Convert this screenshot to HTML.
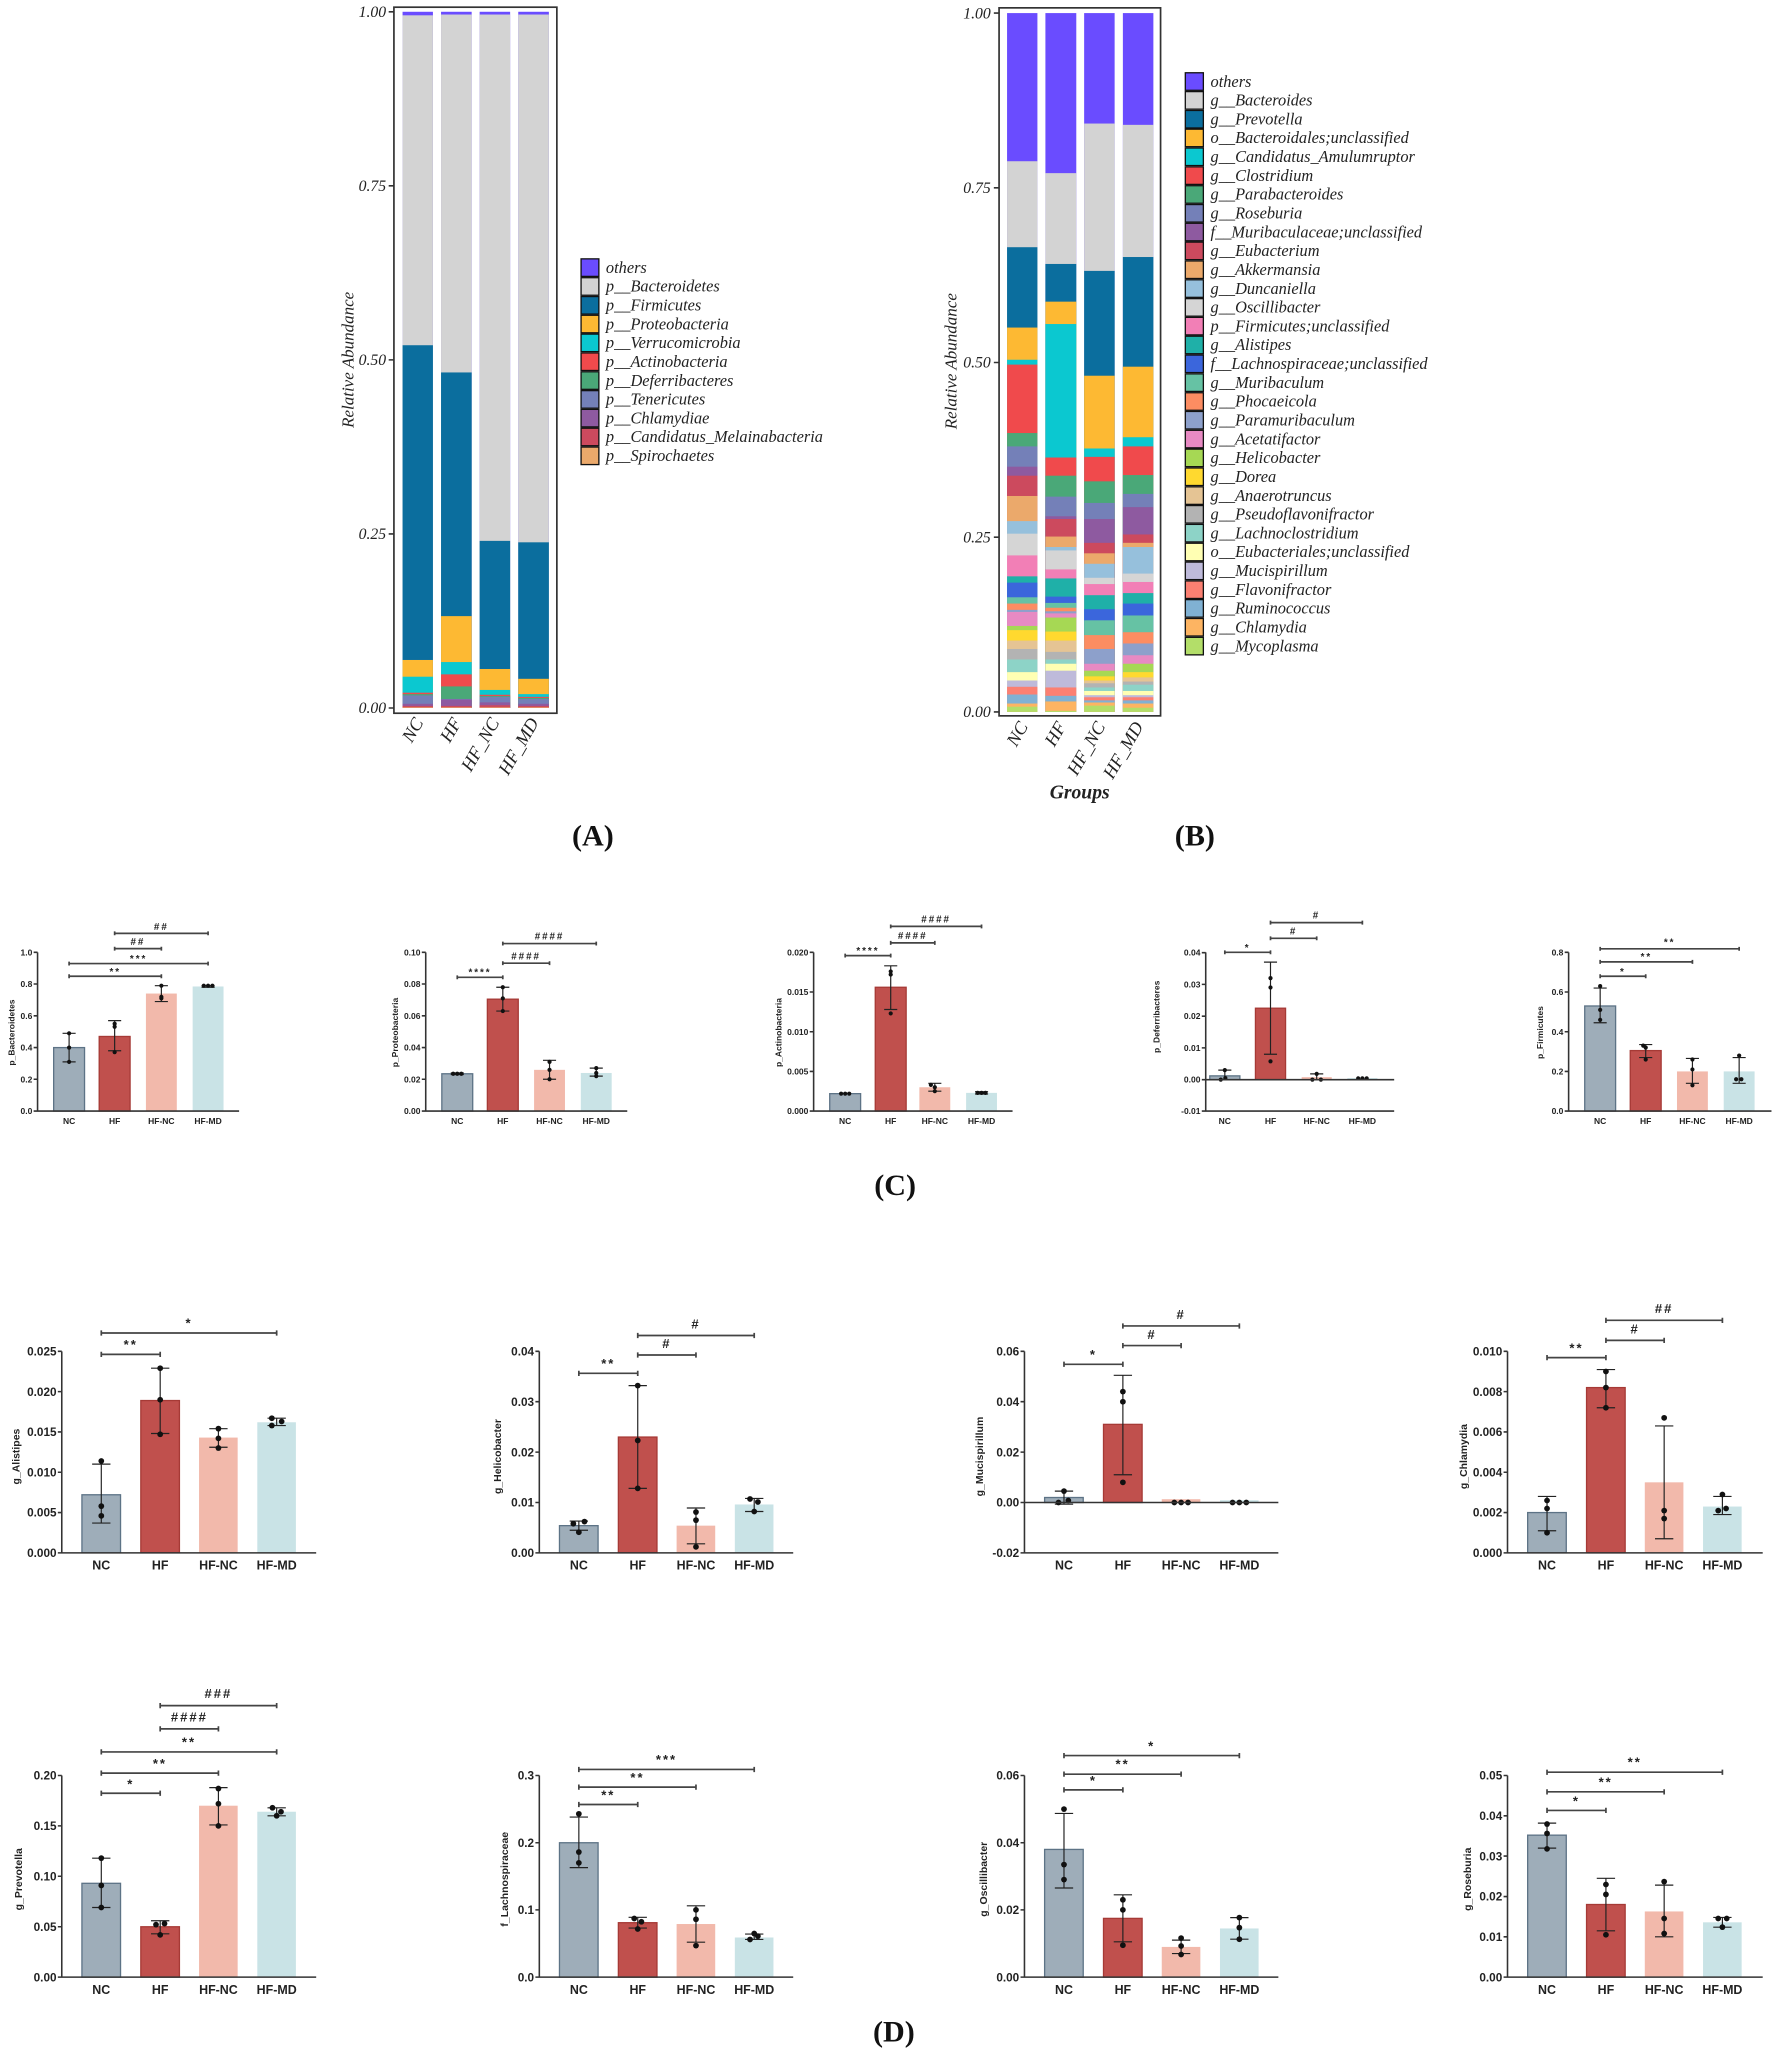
<!DOCTYPE html>
<html><head><meta charset="utf-8"><style>
html,body{margin:0;padding:0;background:#fff}
svg{display:block}
.ser{font-family:"Liberation Serif",serif;font-style:italic;fill:#222}
.nar{font-family:"Liberation Sans Narrow","Liberation Sans",sans-serif;font-weight:bold;fill:#222}
.yl{font-family:"Liberation Sans",sans-serif;font-weight:bold;fill:#222}
.nc{fill:#9eadb9;stroke:#5d7386;stroke-width:1}
.hf{fill:#c0504d;stroke:#a63a36;stroke-width:1}
.hn{fill:#f2b9ab}
.hm{fill:#c9e3e6}
.ax{stroke:#333;stroke-width:1.2;fill:none}
.eb{stroke:#222;stroke-width:0.9;fill:none}
.sg{stroke:#444;stroke-width:1.3;fill:none}
.st{font-family:"Liberation Sans",sans-serif;font-weight:bold;fill:#222;text-anchor:middle;letter-spacing:1.5px}
.lg rect{stroke:#111;stroke-width:1}
</style></head><body>
<svg width="1772" height="2052" viewBox="0 0 1354 1568" preserveAspectRatio="none" xmlns="http://www.w3.org/2000/svg">
<defs>
<clipPath id="ca"><rect x="0" y="0" width="1354" height="541"/></clipPath>
<clipPath id="cb"><rect x="0" y="0" width="1354" height="544"/></clipPath>
</defs>

<!-- ===== Panel A ===== -->
<g clip-path="url(#ca)">
<g><!-- NC -->
<rect x="307.6" width="23.2" y="9" height="600" fill="#6a4cff"/>
<rect x="307.6" width="23.2" y="11.7" height="600" fill="#d3d3d3"/>
<rect x="307.6" width="23.2" y="263.8" height="600" fill="#0b6e9e"/>
<rect x="307.6" width="23.2" y="504.3" height="600" fill="#fdb933"/>
<rect x="307.6" width="23.2" y="517.1" height="600" fill="#0bc8d0"/>
<rect x="307.6" width="23.2" y="529.3" height="600" fill="#f04a4c"/>
<rect x="307.6" width="23.2" y="530.4" height="600" fill="#4aa878"/>
<rect x="307.6" width="23.2" y="531.4" height="600" fill="#7480b8"/>
<rect x="307.6" width="23.2" y="537.8" height="600" fill="#8e5aa0"/>
<rect x="307.6" width="23.2" y="539.4" height="600" fill="#cc4a5e"/>
<rect x="307.6" width="23.2" y="540.5" height="600" fill="#eba96b"/>
</g>
<g><!-- HF -->
<rect x="337" width="23.4" y="9" height="600" fill="#6a4cff"/>
<rect x="337" width="23.4" y="11.1" height="600" fill="#d3d3d3"/>
<rect x="337" width="23.4" y="284.6" height="600" fill="#0b6e9e"/>
<rect x="337" width="23.4" y="470.8" height="600" fill="#fdb933"/>
<rect x="337" width="23.4" y="505.9" height="600" fill="#0bc8d0"/>
<rect x="337" width="23.4" y="515.3" height="600" fill="#f04a4c"/>
<rect x="337" width="23.4" y="524.5" height="600" fill="#4aa878"/>
<rect x="337" width="23.4" y="534.1" height="600" fill="#7480b8"/>
<rect x="337" width="23.4" y="534.5" height="600" fill="#8e5aa0"/>
<rect x="337" width="23.4" y="539.4" height="600" fill="#cc4a5e"/>
<rect x="337" width="23.4" y="540.5" height="600" fill="#eba96b"/>
</g>
<g><!-- HF_NC -->
<rect x="366.5" width="23.3" y="9" height="600" fill="#6a4cff"/>
<rect x="366.5" width="23.3" y="11.1" height="600" fill="#d3d3d3"/>
<rect x="366.5" width="23.3" y="413.3" height="600" fill="#0b6e9e"/>
<rect x="366.5" width="23.3" y="511.2" height="600" fill="#fdb933"/>
<rect x="366.5" width="23.3" y="527.2" height="600" fill="#0bc8d0"/>
<rect x="366.5" width="23.3" y="530.9" height="600" fill="#f04a4c"/>
<rect x="366.5" width="23.3" y="531.8" height="600" fill="#4aa878"/>
<rect x="366.5" width="23.3" y="532.5" height="600" fill="#7480b8"/>
<rect x="366.5" width="23.3" y="536.7" height="600" fill="#8e5aa0"/>
<rect x="366.5" width="23.3" y="538.9" height="600" fill="#cc4a5e"/>
<rect x="366.5" width="23.3" y="540.5" height="600" fill="#eba96b"/>
</g>
<g><!-- HF_MD -->
<rect x="396" width="23.4" y="9" height="600" fill="#6a4cff"/>
<rect x="396" width="23.4" y="11.1" height="600" fill="#d3d3d3"/>
<rect x="396" width="23.4" y="414.4" height="600" fill="#0b6e9e"/>
<rect x="396" width="23.4" y="518.7" height="600" fill="#fdb933"/>
<rect x="396" width="23.4" y="530.4" height="600" fill="#0bc8d0"/>
<rect x="396" width="23.4" y="532.5" height="600" fill="#f04a4c"/>
<rect x="396" width="23.4" y="533.3" height="600" fill="#4aa878"/>
<rect x="396" width="23.4" y="534.1" height="600" fill="#7480b8"/>
<rect x="396" width="23.4" y="537.8" height="600" fill="#8e5aa0"/>
<rect x="396" width="23.4" y="539.4" height="600" fill="#cc4a5e"/>
<rect x="396" width="23.4" y="540.5" height="600" fill="#eba96b"/>
</g>
</g>
<rect x="301" y="5.5" width="124.5" height="539.5" fill="none" stroke="#333" stroke-width="1.3"/>
<path class="ax" d="M297 9H301M297 142H301M297 275H301M297 408H301M297 541H301"/>
<g class="ser" font-size="12" text-anchor="end">
<text x="295" y="13">1.00</text><text x="295" y="146">0.75</text><text x="295" y="279">0.50</text><text x="295" y="412">0.25</text><text x="295" y="545">0.00</text>
</g>
<text class="ser" font-size="13" text-anchor="middle" transform="translate(270,275) rotate(-90)">Relative Abundance</text>
<g class="ser" font-size="14" text-anchor="end">
<text transform="translate(324,552) rotate(-60)">NC</text>
<text transform="translate(353,552) rotate(-60)">HF</text>
<text transform="translate(382,552) rotate(-60)">HF_NC</text>
<text transform="translate(412,552) rotate(-60)">HF_MD</text>
</g>
<g class="lg">
<rect x="444" y="197.8" width="13.6" height="13.4" fill="#6a4cff"/>
<rect x="444" y="212.2" width="13.6" height="13.4" fill="#d3d3d3"/>
<rect x="444" y="226.6" width="13.6" height="13.4" fill="#0b6e9e"/>
<rect x="444" y="240.9" width="13.6" height="13.4" fill="#fdb933"/>
<rect x="444" y="255.3" width="13.6" height="13.4" fill="#0bc8d0"/>
<rect x="444" y="269.7" width="13.6" height="13.4" fill="#f04a4c"/>
<rect x="444" y="284.1" width="13.6" height="13.4" fill="#4aa878"/>
<rect x="444" y="298.5" width="13.6" height="13.4" fill="#7480b8"/>
<rect x="444" y="312.8" width="13.6" height="13.4" fill="#8e5aa0"/>
<rect x="444" y="327.2" width="13.6" height="13.4" fill="#cc4a5e"/>
<rect x="444" y="341.6" width="13.6" height="13.4" fill="#eba96b"/>
</g>
<g class="ser" font-size="12.5">
<text x="463" y="208.5">others</text>
<text x="463" y="222.9">p__Bacteroidetes</text>
<text x="463" y="237.3">p__Firmicutes</text>
<text x="463" y="251.6">p__Proteobacteria</text>
<text x="463" y="266">p__Verrucomicrobia</text>
<text x="463" y="280.4">p__Actinobacteria</text>
<text x="463" y="294.8">p__Deferribacteres</text>
<text x="463" y="309.2">p__Tenericutes</text>
<text x="463" y="323.5">p__Chlamydiae</text>
<text x="463" y="337.9">p__Candidatus_Melainabacteria</text>
<text x="463" y="352.3">p__Spirochaetes</text>
</g>

<!-- ===== Panel B ===== -->
<g clip-path="url(#cb)">
<g transform="translate(769.5,0)">
<rect width="23.2" height="600" y="10" fill="#6a4cff"/><rect width="23.2" height="600" y="123.2" fill="#d3d3d3"/><rect width="23.2" height="600" y="188.9" fill="#0b6e9e"/><rect width="23.2" height="600" y="250.3" fill="#fdb933"/><rect width="23.2" height="600" y="274.9" fill="#0bc8d0"/><rect width="23.2" height="600" y="278.6" fill="#f04a4c"/><rect width="23.2" height="600" y="330.9" fill="#4aa878"/><rect width="23.2" height="600" y="341.1" fill="#7480b8"/><rect width="23.2" height="600" y="356.6" fill="#8e5aa0"/><rect width="23.2" height="600" y="363.5" fill="#cc4a5e"/><rect width="23.2" height="600" y="379" fill="#eba96b"/><rect width="23.2" height="600" y="398.2" fill="#96c0dc"/><rect width="23.2" height="600" y="407.8" fill="#d5d5d5"/><rect width="23.2" height="600" y="424.4" fill="#f27fb6"/><rect width="23.2" height="600" y="440.4" fill="#1fb0a8"/><rect width="23.2" height="600" y="445.2" fill="#3b66dc"/><rect width="23.2" height="600" y="456.4" fill="#66c2a4"/><rect width="23.2" height="600" y="461.2" fill="#fc8d62"/><rect width="23.2" height="600" y="466" fill="#8da0cb"/><rect width="23.2" height="600" y="467.6" fill="#e78ac3"/><rect width="23.2" height="600" y="478.3" fill="#a6d854"/><rect width="23.2" height="600" y="481.5" fill="#ffd92f"/><rect width="23.2" height="600" y="489.5" fill="#e5c494"/><rect width="23.2" height="600" y="495.9" fill="#b3b3b3"/><rect width="23.2" height="600" y="503.9" fill="#8dd3c7"/><rect width="23.2" height="600" y="513.6" fill="#ffffb3"/><rect width="23.2" height="600" y="520" fill="#bebada"/><rect width="23.2" height="600" y="524.8" fill="#fb8072"/><rect width="23.2" height="600" y="530.7" fill="#80b1d3"/><rect width="23.2" height="600" y="537.6" fill="#fdb462"/><rect width="23.2" height="600" y="540" fill="#b3de69"/>
</g>
<g transform="translate(798.8,0)">
<rect width="23.6" height="600" y="10" fill="#6a4cff"/><rect width="23.6" height="600" y="132.3" fill="#d3d3d3"/><rect width="23.6" height="600" y="201.7" fill="#0b6e9e"/><rect width="23.6" height="600" y="230.5" fill="#fdb933"/><rect width="23.6" height="600" y="247.6" fill="#0bc8d0"/><rect width="23.6" height="600" y="349.6" fill="#f04a4c"/><rect width="23.6" height="600" y="363.5" fill="#4aa878"/><rect width="23.6" height="600" y="379.5" fill="#7480b8"/><rect width="23.6" height="600" y="394.5" fill="#8e5aa0"/><rect width="23.6" height="600" y="396.6" fill="#cc4a5e"/><rect width="23.6" height="600" y="410" fill="#eba96b"/><rect width="23.6" height="600" y="418" fill="#96c0dc"/><rect width="23.6" height="600" y="420.6" fill="#d5d5d5"/><rect width="23.6" height="600" y="435.1" fill="#f27fb6"/><rect width="23.6" height="600" y="442" fill="#1fb0a8"/><rect width="23.6" height="600" y="455.9" fill="#3b66dc"/><rect width="23.6" height="600" y="460.7" fill="#66c2a4"/><rect width="23.6" height="600" y="464.4" fill="#fc8d62"/><rect width="23.6" height="600" y="467.1" fill="#8da0cb"/><rect width="23.6" height="600" y="468.7" fill="#e78ac3"/><rect width="23.6" height="600" y="471.9" fill="#a6d854"/><rect width="23.6" height="600" y="482.6" fill="#ffd92f"/><rect width="23.6" height="600" y="489.5" fill="#e5c494"/><rect width="23.6" height="600" y="498.1" fill="#b3b3b3"/><rect width="23.6" height="600" y="503.9" fill="#8dd3c7"/><rect width="23.6" height="600" y="507.2" fill="#ffffb3"/><rect width="23.6" height="600" y="512.5" fill="#bebada"/><rect width="23.6" height="600" y="525.3" fill="#fb8072"/><rect width="23.6" height="600" y="531.7" fill="#80b1d3"/><rect width="23.6" height="600" y="536" fill="#fdb462"/><rect width="23.6" height="600" y="543.2" fill="#b3de69"/>
</g>
<g transform="translate(828.4,0)">
<rect width="23.3" height="600" y="10" fill="#6a4cff"/><rect width="23.3" height="600" y="94.4" fill="#d3d3d3"/><rect width="23.3" height="600" y="207" fill="#0b6e9e"/><rect width="23.3" height="600" y="287.1" fill="#fdb933"/><rect width="23.3" height="600" y="342.7" fill="#0bc8d0"/><rect width="23.3" height="600" y="349.1" fill="#f04a4c"/><rect width="23.3" height="600" y="367.8" fill="#4aa878"/><rect width="23.3" height="600" y="384.3" fill="#7480b8"/><rect width="23.3" height="600" y="396.6" fill="#8e5aa0"/><rect width="23.3" height="600" y="414.8" fill="#cc4a5e"/><rect width="23.3" height="600" y="422.8" fill="#eba96b"/><rect width="23.3" height="600" y="430.8" fill="#96c0dc"/><rect width="23.3" height="600" y="441.5" fill="#d5d5d5"/><rect width="23.3" height="600" y="446.3" fill="#f27fb6"/><rect width="23.3" height="600" y="454.8" fill="#1fb0a8"/><rect width="23.3" height="600" y="465.5" fill="#3b66dc"/><rect width="23.3" height="600" y="474" fill="#66c2a4"/><rect width="23.3" height="600" y="485.3" fill="#fc8d62"/><rect width="23.3" height="600" y="495.9" fill="#8da0cb"/><rect width="23.3" height="600" y="507.2" fill="#e78ac3"/><rect width="23.3" height="600" y="512.5" fill="#a6d854"/><rect width="23.3" height="600" y="516.8" fill="#ffd92f"/><rect width="23.3" height="600" y="520" fill="#e5c494"/><rect width="23.3" height="600" y="522.1" fill="#b3b3b3"/><rect width="23.3" height="600" y="525.3" fill="#8dd3c7"/><rect width="23.3" height="600" y="528" fill="#ffffb3"/><rect width="23.3" height="600" y="531.2" fill="#bebada"/><rect width="23.3" height="600" y="532.8" fill="#fb8072"/><rect width="23.3" height="600" y="535.2" fill="#80b1d3"/><rect width="23.3" height="600" y="536.8" fill="#fdb462"/><rect width="23.3" height="600" y="539.2" fill="#b3de69"/>
</g>
<g transform="translate(858,0)">
<rect width="23.3" height="600" y="10" fill="#6a4cff"/><rect width="23.3" height="600" y="95.4" fill="#d3d3d3"/><rect width="23.3" height="600" y="196.4" fill="#0b6e9e"/><rect width="23.3" height="600" y="280.2" fill="#fdb933"/><rect width="23.3" height="600" y="334.1" fill="#0bc8d0"/><rect width="23.3" height="600" y="341.1" fill="#f04a4c"/><rect width="23.3" height="600" y="363" fill="#4aa878"/><rect width="23.3" height="600" y="377.4" fill="#7480b8"/><rect width="23.3" height="600" y="387.5" fill="#8e5aa0"/><rect width="23.3" height="600" y="408.4" fill="#cc4a5e"/><rect width="23.3" height="600" y="414.8" fill="#eba96b"/><rect width="23.3" height="600" y="418" fill="#96c0dc"/><rect width="23.3" height="600" y="438.3" fill="#d5d5d5"/><rect width="23.3" height="600" y="444.7" fill="#f27fb6"/><rect width="23.3" height="600" y="453.2" fill="#1fb0a8"/><rect width="23.3" height="600" y="461.2" fill="#3b66dc"/><rect width="23.3" height="600" y="470.3" fill="#66c2a4"/><rect width="23.3" height="600" y="483.1" fill="#fc8d62"/><rect width="23.3" height="600" y="491.7" fill="#8da0cb"/><rect width="23.3" height="600" y="500.7" fill="#e78ac3"/><rect width="23.3" height="600" y="507.2" fill="#a6d854"/><rect width="23.3" height="600" y="513.6" fill="#ffd92f"/><rect width="23.3" height="600" y="517.6" fill="#e5c494"/><rect width="23.3" height="600" y="520.8" fill="#b3b3b3"/><rect width="23.3" height="600" y="523.2" fill="#8dd3c7"/><rect width="23.3" height="600" y="528" fill="#ffffb3"/><rect width="23.3" height="600" y="531.2" fill="#bebada"/><rect width="23.3" height="600" y="532.8" fill="#fb8072"/><rect width="23.3" height="600" y="535.2" fill="#80b1d3"/><rect width="23.3" height="600" y="537.6" fill="#fdb462"/><rect width="23.3" height="600" y="540.8" fill="#b3de69"/>
</g>
</g>
<rect x="763.4" y="6" width="123.4" height="541" fill="none" stroke="#333" stroke-width="1.3"/>
<path class="ax" d="M759.4 10H763.4M759.4 143.5H763.4M759.4 277H763.4M759.4 410.5H763.4M759.4 544H763.4"/>
<g class="ser" font-size="12" text-anchor="end">
<text x="757" y="14">1.00</text><text x="757" y="147.5">0.75</text><text x="757" y="281">0.50</text><text x="757" y="414.5">0.25</text><text x="757" y="548">0.00</text>
</g>
<text class="ser" font-size="13" text-anchor="middle" transform="translate(731,276) rotate(-90)">Relative Abundance</text>
<g class="ser" font-size="14" text-anchor="end">
<text transform="translate(786,555) rotate(-60)">NC</text>
<text transform="translate(815,555) rotate(-60)">HF</text>
<text transform="translate(845,555) rotate(-60)">HF_NC</text>
<text transform="translate(874,555) rotate(-60)">HF_MD</text>
</g>
<text class="ser" font-size="15" font-weight="bold" text-anchor="middle" x="825" y="610">Groups</text>
<g class="lg">
<rect x="905.7" y="55.6" width="13.8" height="13.4" fill="#6a4cff"/>
<rect x="905.7" y="70" width="13.8" height="13.4" fill="#d3d3d3"/>
<rect x="905.7" y="84.4" width="13.8" height="13.4" fill="#0b6e9e"/>
<rect x="905.7" y="98.7" width="13.8" height="13.4" fill="#fdb933"/>
<rect x="905.7" y="113.1" width="13.8" height="13.4" fill="#0bc8d0"/>
<rect x="905.7" y="127.5" width="13.8" height="13.4" fill="#f04a4c"/>
<rect x="905.7" y="141.9" width="13.8" height="13.4" fill="#4aa878"/>
<rect x="905.7" y="156.3" width="13.8" height="13.4" fill="#7480b8"/>
<rect x="905.7" y="170.6" width="13.8" height="13.4" fill="#8e5aa0"/>
<rect x="905.7" y="185" width="13.8" height="13.4" fill="#cc4a5e"/>
<rect x="905.7" y="199.4" width="13.8" height="13.4" fill="#eba96b"/>
<rect x="905.7" y="213.8" width="13.8" height="13.4" fill="#96c0dc"/>
<rect x="905.7" y="228.2" width="13.8" height="13.4" fill="#d5d5d5"/>
<rect x="905.7" y="242.5" width="13.8" height="13.4" fill="#f27fb6"/>
<rect x="905.7" y="256.9" width="13.8" height="13.4" fill="#1fb0a8"/>
<rect x="905.7" y="271.3" width="13.8" height="13.4" fill="#3b66dc"/>
<rect x="905.7" y="285.7" width="13.8" height="13.4" fill="#66c2a4"/>
<rect x="905.7" y="300.1" width="13.8" height="13.4" fill="#fc8d62"/>
<rect x="905.7" y="314.4" width="13.8" height="13.4" fill="#8da0cb"/>
<rect x="905.7" y="328.8" width="13.8" height="13.4" fill="#e78ac3"/>
<rect x="905.7" y="343.2" width="13.8" height="13.4" fill="#a6d854"/>
<rect x="905.7" y="357.6" width="13.8" height="13.4" fill="#ffd92f"/>
<rect x="905.7" y="372" width="13.8" height="13.4" fill="#e5c494"/>
<rect x="905.7" y="386.3" width="13.8" height="13.4" fill="#b3b3b3"/>
<rect x="905.7" y="400.7" width="13.8" height="13.4" fill="#8dd3c7"/>
<rect x="905.7" y="415.1" width="13.8" height="13.4" fill="#ffffb3"/>
<rect x="905.7" y="429.5" width="13.8" height="13.4" fill="#bebada"/>
<rect x="905.7" y="443.9" width="13.8" height="13.4" fill="#fb8072"/>
<rect x="905.7" y="458.2" width="13.8" height="13.4" fill="#80b1d3"/>
<rect x="905.7" y="472.6" width="13.8" height="13.4" fill="#fdb462"/>
<rect x="905.7" y="487" width="13.8" height="13.4" fill="#b3de69"/>
</g>
<g class="ser" font-size="12.5">
<text x="925" y="66.3">others</text>
<text x="925" y="80.7">g__Bacteroides</text>
<text x="925" y="95.1">g__Prevotella</text>
<text x="925" y="109.4">o__Bacteroidales;unclassified</text>
<text x="925" y="123.8">g__Candidatus_Amulumruptor</text>
<text x="925" y="138.2">g__Clostridium</text>
<text x="925" y="152.6">g__Parabacteroides</text>
<text x="925" y="167">g__Roseburia</text>
<text x="925" y="181.3">f__Muribaculaceae;unclassified</text>
<text x="925" y="195.7">g__Eubacterium</text>
<text x="925" y="210.1">g__Akkermansia</text>
<text x="925" y="224.5">g__Duncaniella</text>
<text x="925" y="238.9">g__Oscillibacter</text>
<text x="925" y="253.2">p__Firmicutes;unclassified</text>
<text x="925" y="267.6">g__Alistipes</text>
<text x="925" y="282">f__Lachnospiraceae;unclassified</text>
<text x="925" y="296.4">g__Muribaculum</text>
<text x="925" y="310.8">g__Phocaeicola</text>
<text x="925" y="325.1">g__Paramuribaculum</text>
<text x="925" y="339.5">g__Acetatifactor</text>
<text x="925" y="353.9">g__Helicobacter</text>
<text x="925" y="368.3">g__Dorea</text>
<text x="925" y="382.7">g__Anaerotruncus</text>
<text x="925" y="397">g__Pseudoflavonifractor</text>
<text x="925" y="411.4">g__Lachnoclostridium</text>
<text x="925" y="425.8">o__Eubacteriales;unclassified</text>
<text x="925" y="440.2">g__Mucispirillum</text>
<text x="925" y="454.6">g__Flavonifractor</text>
<text x="925" y="468.9">g__Ruminococcus</text>
<text x="925" y="483.3">g__Chlamydia</text>
<text x="925" y="497.7">g__Mycoplasma</text>
</g>

<g font-family="Liberation Serif,serif" font-weight="bold" font-size="23" text-anchor="middle" fill="#111">
<text x="453" y="646">(A)</text><text x="913" y="646">(B)</text><text x="684" y="913">(C)</text><text x="683" y="1560">(D)</text>
</g>

<!-- ===== Panel C ===== -->
<!-- C1 -->
<g transform="translate(28.7,0)">
<rect class="nc" x="12.3" y="800.5" width="23.6" height="48.5"/><rect class="hf" x="47.1" y="792" width="23.6" height="57"/><rect class="hn" x="82.8" y="759.2" width="23.6" height="89.8"/><rect class="hm" x="118.5" y="753.8" width="23.6" height="95.2"/>
<path class="eb" d="M24.1 811.4V789.6M19.1 811.4h10M19.1 789.6h10M58.9 802.9V779.9M53.9 802.9h10M53.9 779.9h10M94.6 765.3V753.2M89.6 765.3h10M89.6 753.2h10M130.3 754.4V753.2M125.3 754.4h10M125.3 753.2h10"/>
<g fill="#111"><circle cx="24.1" cy="811.4" r="1.6"/><circle cx="24.1" cy="800.5" r="1.6"/><circle cx="24.1" cy="789.6" r="1.6"/><circle cx="58.9" cy="804" r="1.6"/><circle cx="58.9" cy="784.6" r="1.6"/><circle cx="58.9" cy="782.3" r="1.6"/><circle cx="94.6" cy="762.9" r="1.6"/><circle cx="94.6" cy="761.7" r="1.6"/><circle cx="94.6" cy="753.2" r="1.6"/><circle cx="127" cy="753.2" r="1.6"/><circle cx="130.3" cy="753.2" r="1.6"/><circle cx="133.6" cy="753.2" r="1.6"/></g>
<path class="ax" d="M0 727.7V849H154M-3 849H0M-3 824.7H0M-3 800.5H0M-3 776.2H0M-3 751.9H0M-3 727.7H0"/>
<g class="nar" font-size="6.5" text-anchor="end"><text x="-4" y="851.3">0.0</text><text x="-4" y="827">0.2</text><text x="-4" y="802.8">0.4</text><text x="-4" y="778.5">0.6</text><text x="-4" y="754.2">0.8</text><text x="-4" y="730">1.0</text></g>
<g class="nar" font-size="6.5" text-anchor="middle"><text x="24.1" y="859">NC</text><text x="58.9" y="859">HF</text><text x="94.6" y="859">HF-NC</text><text x="130.3" y="859">HF-MD</text></g>
<path class="sg" d="M24.1 746H94.6M24.1 744.5v3M94.6 744.5v3M24.1 736.3H130.3M24.1 734.8v3M130.3 734.8v3M58.9 724.9H94.6M58.9 723.4v3M94.6 723.4v3M58.9 713.2H130.3M58.9 711.7v3M130.3 711.7v3"/>
<g class="st" font-size="7.5"><text x="59.4" y="745">**</text><text x="77.2" y="735">***</text><text x="76.7" y="722">##</text><text x="94.6" y="710.5">##</text></g>
</g>
<text class="yl" font-size="6.5" text-anchor="middle" transform="translate(11,789) rotate(-90)">p_Bacteroidetes</text>

<!-- C2 -->
<g transform="translate(325.3,0)">
<rect class="nc" x="12.3" y="820.5" width="23.6" height="28.5"/><rect class="hf" x="47.1" y="763.5" width="23.6" height="85.5"/><rect class="hn" x="82.8" y="817.5" width="23.6" height="31.5"/><rect class="hm" x="118.5" y="819.9" width="23.6" height="29.1"/>
<path class="eb" d="M24.1 821.1V819.9M19.1 821.1h10M19.1 819.9h10M58.9 772.6V754.4M53.9 772.6h10M53.9 754.4h10M94.6 824.7V810.2M89.6 824.7h10M89.6 810.2h10M130.3 822.3V816.2M125.3 822.3h10M125.3 816.2h10"/>
<g fill="#111"><circle cx="21" cy="820.5" r="1.6"/><circle cx="24.1" cy="820.5" r="1.6"/><circle cx="27.2" cy="820.5" r="1.6"/><circle cx="58.9" cy="772.6" r="1.6"/><circle cx="58.9" cy="762.9" r="1.6"/><circle cx="58.9" cy="754.4" r="1.6"/><circle cx="94.6" cy="824.7" r="1.6"/><circle cx="94.6" cy="817.5" r="1.6"/><circle cx="94.6" cy="811.4" r="1.6"/><circle cx="130.3" cy="822.3" r="1.6"/><circle cx="130.3" cy="819.9" r="1.6"/><circle cx="130.3" cy="816.2" r="1.6"/></g>
<path class="ax" d="M0 727.7V849H154M-3 849H0M-3 824.7H0M-3 800.5H0M-3 776.2H0M-3 751.9H0M-3 727.7H0"/>
<g class="nar" font-size="6.5" text-anchor="end"><text x="-4" y="851.3">0.00</text><text x="-4" y="827">0.02</text><text x="-4" y="802.8">0.04</text><text x="-4" y="778.5">0.06</text><text x="-4" y="754.2">0.08</text><text x="-4" y="730">0.10</text></g>
<g class="nar" font-size="6.5" text-anchor="middle"><text x="24.1" y="859">NC</text><text x="58.9" y="859">HF</text><text x="94.6" y="859">HF-NC</text><text x="130.3" y="859">HF-MD</text></g>
<path class="sg" d="M24.1 746.8H58.9M24.1 745.3v3M58.9 745.3v3M58.9 736H94.6M58.9 734.5v3M94.6 734.5v3M58.9 721H130.3M58.9 719.5v3M130.3 719.5v3"/>
<g class="st" font-size="7.5"><text x="41.5" y="745.5">****</text><text x="76.7" y="733">####</text><text x="94.6" y="718">####</text></g>
</g>
<text class="yl" font-size="6.5" text-anchor="middle" transform="translate(304,789) rotate(-90)">p_Proteobacteria</text>

<!-- C3 -->
<g transform="translate(621.7,0)">
<rect class="nc" x="12.3" y="835.7" width="23.6" height="13.3"/><rect class="hf" x="47.1" y="754.4" width="23.6" height="94.6"/><rect class="hn" x="80.8" y="830.8" width="23.6" height="18.2"/><rect class="hm" x="116.5" y="835.1" width="23.6" height="13.9"/>
<path class="eb" d="M58.9 771.4V738M53.9 771.4h10M53.9 738h10M92.6 833.8V827.8M87.6 833.8h10M87.6 827.8h10M128.3 836V834.2M123.3 836h10M123.3 834.2h10"/>
<g fill="#111"><circle cx="21" cy="835.7" r="1.6"/><circle cx="24.1" cy="835.7" r="1.6"/><circle cx="27.2" cy="835.7" r="1.6"/><circle cx="58.9" cy="774.4" r="1.6"/><circle cx="58.9" cy="744.7" r="1.6"/><circle cx="58.9" cy="742.3" r="1.6"/><circle cx="92.6" cy="833.8" r="1.6"/><circle cx="92.6" cy="830.8" r="1.6"/><circle cx="89.6" cy="829" r="1.6"/><circle cx="125.3" cy="835.1" r="1.6"/><circle cx="128.3" cy="835.1" r="1.6"/><circle cx="131.3" cy="835.1" r="1.6"/></g>
<path class="ax" d="M0 727.7V849H152M-3 849H0M-3 818.7H0M-3 788.4H0M-3 758H0M-3 727.7H0"/>
<g class="nar" font-size="6.5" text-anchor="end"><text x="-4" y="851.3">0.000</text><text x="-4" y="821">0.005</text><text x="-4" y="790.7">0.010</text><text x="-4" y="760.3">0.015</text><text x="-4" y="730">0.020</text></g>
<g class="nar" font-size="6.5" text-anchor="middle"><text x="24.1" y="859">NC</text><text x="58.9" y="859">HF</text><text x="92.6" y="859">HF-NC</text><text x="128.3" y="859">HF-MD</text></g>
<path class="sg" d="M24.1 730.2H58.9M24.1 728.7v3M58.9 728.7v3M58.9 720.5H92.6M58.9 719v3M92.6 719v3M58.9 707.9H128.3M58.9 706.4v3M128.3 706.4v3"/>
<g class="st" font-size="7.5"><text x="41.5" y="729">****</text><text x="75.7" y="717.5">####</text><text x="93.6" y="705">####</text></g>
</g>
<text class="yl" font-size="6.5" text-anchor="middle" transform="translate(597,789) rotate(-90)">p_Actinobacteria</text>

<!-- C4 -->
<g transform="translate(921.3,0)">
<rect class="nc" x="3.1" y="822.1" width="23" height="2.9"/><rect class="hf" x="38" y="770.4" width="23" height="54.6"/><rect class="hn" x="73.3" y="823.1" width="23" height="1.9"/><rect class="hm" x="108.2" y="823.8" width="23" height="1.2"/>
<path class="eb" d="M14.6 825V817.7M9.6 825h10M9.6 817.7h10M49.5 805.6V735.2M44.5 805.6h10M44.5 735.2h10M84.8 825V820.6M79.8 825h10M79.8 820.6h10"/>
<g fill="#111"><circle cx="11.5" cy="825" r="1.6"/><circle cx="15" cy="823.8" r="1.6"/><circle cx="14.6" cy="817.7" r="1.6"/><circle cx="49.5" cy="811" r="1.6"/><circle cx="49.5" cy="754.6" r="1.6"/><circle cx="49.5" cy="747.4" r="1.6"/><circle cx="81.5" cy="825" r="1.6"/><circle cx="84.8" cy="820.6" r="1.6"/><circle cx="88" cy="825" r="1.6"/><circle cx="116.5" cy="824" r="1.6"/><circle cx="119.7" cy="824" r="1.6"/><circle cx="123" cy="824" r="1.6"/></g>
<path class="ax" d="M0 727.7V849H144M0 825H144M-3 849H0M-3 825H0M-3 800.7H0M-3 776.5H0M-3 752.2H0M-3 728H0"/>
<g class="nar" font-size="6.5" text-anchor="end"><text x="-4" y="851.3">-0.01</text><text x="-4" y="827.3">0.00</text><text x="-4" y="803">0.01</text><text x="-4" y="778.8">0.02</text><text x="-4" y="754.5">0.03</text><text x="-4" y="730.3">0.04</text></g>
<g class="nar" font-size="6.5" text-anchor="middle"><text x="14.6" y="859">NC</text><text x="49.5" y="859">HF</text><text x="84.8" y="859">HF-NC</text><text x="119.7" y="859">HF-MD</text></g>
<path class="sg" d="M14.6 727.7H49.5M14.6 726.2v3M49.5 726.2v3M49.5 717H84.8M49.5 715.5v3M84.8 715.5v3M49.5 705H119.7M49.5 703.5v3M119.7 703.5v3"/>
<g class="st" font-size="7.5"><text x="32" y="726.5">*</text><text x="67.1" y="714">#</text><text x="84.6" y="702">#</text></g>
</g>
<text class="yl" font-size="6.5" text-anchor="middle" transform="translate(886,777) rotate(-90)">p_Deferribacteres</text>

<!-- C5 -->
<g transform="translate(1198.6,0)">
<rect class="nc" x="12.3" y="768.7" width="23.6" height="80.3"/><rect class="hf" x="47.1" y="802.8" width="23.6" height="46.2"/><rect class="hn" x="82.8" y="818.7" width="23.6" height="30.3"/><rect class="hm" x="118.5" y="818.7" width="23.6" height="30.3"/>
<path class="eb" d="M24.1 781.5V755M19.1 781.5h10M19.1 755h10M58.9 808.1V798.2M53.9 808.1h10M53.9 798.2h10M94.6 827.8V808.8M89.6 827.8h10M89.6 808.8h10M130.3 827.8V808.1M125.3 827.8h10M125.3 808.1h10"/>
<g fill="#111"><circle cx="24.1" cy="779.3" r="1.6"/><circle cx="24.1" cy="771.7" r="1.6"/><circle cx="24.1" cy="753.5" r="1.6"/><circle cx="58.9" cy="809.6" r="1.6"/><circle cx="58.9" cy="800.5" r="1.6"/><circle cx="57" cy="799" r="1.6"/><circle cx="94.6" cy="829.3" r="1.6"/><circle cx="94.6" cy="817.2" r="1.6"/><circle cx="94.6" cy="809.6" r="1.6"/><circle cx="128" cy="824.7" r="1.6"/><circle cx="132" cy="824.7" r="1.6"/><circle cx="130.3" cy="806.6" r="1.6"/></g>
<path class="ax" d="M0 727.7V849H155M-3 849H0M-3 818.7H0M-3 788.4H0M-3 758H0M-3 727.7H0"/>
<g class="nar" font-size="6.5" text-anchor="end"><text x="-4" y="851.3">0.0</text><text x="-4" y="821">0.2</text><text x="-4" y="790.7">0.4</text><text x="-4" y="760.3">0.6</text><text x="-4" y="730">0.8</text></g>
<g class="nar" font-size="6.5" text-anchor="middle"><text x="24.1" y="859">NC</text><text x="58.9" y="859">HF</text><text x="94.6" y="859">HF-NC</text><text x="130.3" y="859">HF-MD</text></g>
<path class="sg" d="M24.1 746H58.9M24.1 744.5v3M58.9 744.5v3M24.1 735H94.6M24.1 733.5v3M94.6 733.5v3M24.1 725H130.3M24.1 723.5v3M130.3 723.5v3"/>
<g class="st" font-size="7.5"><text x="41.5" y="745">*</text><text x="59.4" y="733.5">**</text><text x="77.2" y="722.5">**</text></g>
</g>
<text class="yl" font-size="6.5" font-weight="normal" text-anchor="middle" transform="translate(1179,789) rotate(-90)">p_Firmicutes</text>

<!-- ===== Panel D row 1 ===== -->
<!-- D1 Alistipes -->
<g transform="translate(47.2,0)">
<rect class="nc" x="15.4" y="1142.2" width="29.5" height="44.4"/><rect class="hf" x="60.4" y="1070.2" width="29.5" height="116.4"/><rect class="hn" x="104.9" y="1098.5" width="29.5" height="88.1"/><rect class="hm" x="149.4" y="1086.8" width="29.5" height="99.8"/>
<path class="eb" d="M30.2 1163.8V1118.8M23.2 1163.8h14M23.2 1118.8h14M75.2 1095.4V1045.5M68.2 1095.4h14M68.2 1045.5h14M119.7 1105.9V1091.7M112.7 1105.9h14M112.7 1091.7h14M164.2 1089.3V1083.7M157.2 1089.3h14M157.2 1083.7h14"/>
<g fill="#111"><circle cx="30.2" cy="1158.3" r="2.2"/><circle cx="30.2" cy="1150.9" r="2.2"/><circle cx="30.2" cy="1116.4" r="2.2"/><circle cx="75.2" cy="1096" r="2.2"/><circle cx="75.2" cy="1069.6" r="2.2"/><circle cx="75.2" cy="1045.5" r="2.2"/><circle cx="119.7" cy="1106.5" r="2.2"/><circle cx="119.7" cy="1099.1" r="2.2"/><circle cx="119.7" cy="1091.7" r="2.2"/><circle cx="160.5" cy="1089.3" r="2.2"/><circle cx="168" cy="1086.2" r="2.2"/><circle cx="160.5" cy="1083.7" r="2.2"/></g>
<path class="ax" d="M0 1032.6V1186.6H194.4M-3 1186.6H0M-3 1155.8H0M-3 1125H0M-3 1094.2H0M-3 1063.4H0M-3 1032.6H0"/>
<g class="nar" font-size="9" text-anchor="end"><text x="-4" y="1189.8">0.000</text><text x="-4" y="1159">0.005</text><text x="-4" y="1128.2">0.010</text><text x="-4" y="1097.4">0.015</text><text x="-4" y="1066.6">0.020</text><text x="-4" y="1035.8">0.025</text></g>
<g class="nar" font-size="9.5" text-anchor="middle"><text x="30.2" y="1199.5">NC</text><text x="75.2" y="1199.5">HF</text><text x="119.7" y="1199.5">HF-NC</text><text x="164.2" y="1199.5">HF-MD</text></g>
<path class="sg" d="M30.2 1034.9H75.2M30.2 1032.9v4M75.2 1032.9v4M30.2 1018.6H164.2M30.2 1016.6v4M164.2 1016.6v4"/>
<g class="st" font-size="10"><text x="52.7" y="1031">**</text><text x="97.2" y="1014.5">*</text></g>
</g>
<text class="yl" font-size="8" text-anchor="middle" transform="translate(15,1113) rotate(-90)">g_Alistipes</text>

<!-- D2 Helicobacter -->
<g transform="translate(412.1,0)">
<rect class="nc" x="15.4" y="1165.8" width="29.5" height="20.8"/><rect class="hf" x="60.4" y="1098.1" width="29.5" height="88.5"/><rect class="hn" x="104.9" y="1165.8" width="29.5" height="20.8"/><rect class="hm" x="149.4" y="1149.6" width="29.5" height="37"/>
<path class="eb" d="M30.2 1169.3V1162.3M23.2 1169.3h14M23.2 1162.3h14M75.2 1137.3V1058.8M68.2 1137.3h14M68.2 1058.8h14M119.7 1179.7V1152.3M112.7 1179.7h14M112.7 1152.3h14M164.2 1155V1145M157.2 1155h14M157.2 1145h14"/>
<g fill="#111"><circle cx="30.2" cy="1170.8" r="2.2"/><circle cx="26" cy="1164.3" r="2.2"/><circle cx="34.5" cy="1162.7" r="2.2"/><circle cx="75.2" cy="1137.3" r="2.2"/><circle cx="75.2" cy="1100.7" r="2.2"/><circle cx="75.2" cy="1058.8" r="2.2"/><circle cx="119.7" cy="1182" r="2.2"/><circle cx="119.7" cy="1161.6" r="2.2"/><circle cx="119.7" cy="1155.4" r="2.2"/><circle cx="164.2" cy="1155" r="2.2"/><circle cx="167" cy="1147.7" r="2.2"/><circle cx="161" cy="1145.4" r="2.2"/></g>
<path class="ax" d="M0 1032.6V1186.6H194M-3 1186.6H0M-3 1148.1H0M-3 1109.6H0M-3 1071.1H0M-3 1032.6H0"/>
<g class="nar" font-size="9" text-anchor="end"><text x="-4" y="1189.8">0.00</text><text x="-4" y="1151.3">0.01</text><text x="-4" y="1112.8">0.02</text><text x="-4" y="1074.3">0.03</text><text x="-4" y="1035.8">0.04</text></g>
<g class="nar" font-size="9.5" text-anchor="middle"><text x="30.2" y="1199.5">NC</text><text x="75.2" y="1199.5">HF</text><text x="119.7" y="1199.5">HF-NC</text><text x="164.2" y="1199.5">HF-MD</text></g>
<path class="sg" d="M30.2 1049.4H75.2M30.2 1047.4v4M75.2 1047.4v4M75.2 1035.4H119.7M75.2 1033.4v4M119.7 1033.4v4M75.2 1020.5H164.2M75.2 1018.5v4M164.2 1018.5v4"/>
<g class="st" font-size="10"><text x="52.7" y="1045.5">**</text><text x="97.5" y="1030">#</text><text x="119.7" y="1015">#</text></g>
</g>
<text class="yl" font-size="8" text-anchor="middle" transform="translate(383,1113) rotate(-90)">g_Helicobacter</text>

<!-- D3 Mucispirillum -->
<g transform="translate(782.8,0)">
<rect class="nc" x="15.4" y="1144.3" width="29.5" height="3.8"/><rect class="hf" x="60.4" y="1088.4" width="29.5" height="59.7"/><rect class="hn" x="104.9" y="1145.6" width="29.5" height="2.5"/><rect class="hm" x="149.4" y="1146.4" width="29.5" height="1.7"/>
<path class="eb" d="M30.2 1149.4V1139.4M23.2 1149.4h14M23.2 1139.4h14M75.2 1126.9V1050.9M68.2 1126.9h14M68.2 1050.9h14"/>
<g fill="#111"><circle cx="26" cy="1148.1" r="2.2"/><circle cx="33.5" cy="1146.6" r="2.2"/><circle cx="30.2" cy="1139.4" r="2.2"/><circle cx="75.2" cy="1132.7" r="2.2"/><circle cx="75.2" cy="1071.1" r="2.2"/><circle cx="75.2" cy="1063.4" r="2.2"/><circle cx="114.5" cy="1148.1" r="2.2"/><circle cx="119.7" cy="1148.1" r="2.2"/><circle cx="125" cy="1148.1" r="2.2"/><circle cx="159" cy="1148.1" r="2.2"/><circle cx="164.2" cy="1148.1" r="2.2"/><circle cx="169.5" cy="1148.1" r="2.2"/></g>
<path class="ax" d="M0 1032.6V1186.6H194M0 1148.1H194M-3 1186.6H0M-3 1148.1H0M-3 1109.6H0M-3 1071.1H0M-3 1032.6H0"/>
<g class="nar" font-size="9" text-anchor="end"><text x="-4" y="1189.8">-0.02</text><text x="-4" y="1151.3">0.00</text><text x="-4" y="1112.8">0.02</text><text x="-4" y="1074.3">0.04</text><text x="-4" y="1035.8">0.06</text></g>
<g class="nar" font-size="9.5" text-anchor="middle"><text x="30.2" y="1199.5">NC</text><text x="75.2" y="1199.5">HF</text><text x="119.7" y="1199.5">HF-NC</text><text x="164.2" y="1199.5">HF-MD</text></g>
<path class="sg" d="M30.2 1042.5H75.2M30.2 1040.5v4M75.2 1040.5v4M75.2 1028.2H119.7M75.2 1026.2v4M119.7 1026.2v4M75.2 1013.2H164.2M75.2 1011.2v4M164.2 1011.2v4"/>
<g class="st" font-size="10"><text x="52.7" y="1038.5">*</text><text x="97.5" y="1023">#</text><text x="119.7" y="1008">#</text></g>
</g>
<text class="yl" font-size="8" text-anchor="middle" transform="translate(751,1113) rotate(-90)">g_Mucispirillum</text>

<!-- D4 Chlamydia -->
<g transform="translate(1151.9,0)">
<rect class="nc" x="15.4" y="1155.8" width="29.5" height="30.8"/><rect class="hf" x="60.4" y="1060.3" width="29.5" height="126.3"/><rect class="hn" x="104.9" y="1132.7" width="29.5" height="53.9"/><rect class="hm" x="149.4" y="1151.2" width="29.5" height="35.4"/>
<path class="eb" d="M30.2 1169.7V1143.5M23.2 1169.7h14M23.2 1143.5h14M75.2 1075.7V1046.5M68.2 1075.7h14M68.2 1046.5h14M119.7 1175.8V1089.6M112.7 1175.8h14M112.7 1089.6h14M164.2 1157.3V1143.5M157.2 1157.3h14M157.2 1143.5h14"/>
<g fill="#111"><circle cx="30.2" cy="1171.2" r="2.2"/><circle cx="30.2" cy="1152.7" r="2.2"/><circle cx="30.2" cy="1146.6" r="2.2"/><circle cx="75.2" cy="1075.7" r="2.2"/><circle cx="75.2" cy="1060.3" r="2.2"/><circle cx="75.2" cy="1048" r="2.2"/><circle cx="119.7" cy="1160.4" r="2.2"/><circle cx="119.7" cy="1154.3" r="2.2"/><circle cx="119.7" cy="1083.4" r="2.2"/><circle cx="161" cy="1154.3" r="2.2"/><circle cx="167" cy="1152.7" r="2.2"/><circle cx="164.2" cy="1142" r="2.2"/></g>
<path class="ax" d="M0 1032.6V1186.6H195M-3 1186.6H0M-3 1155.8H0M-3 1125H0M-3 1094.2H0M-3 1063.4H0M-3 1032.6H0"/>
<g class="nar" font-size="9" text-anchor="end"><text x="-4" y="1189.8">0.000</text><text x="-4" y="1159">0.002</text><text x="-4" y="1128.2">0.004</text><text x="-4" y="1097.4">0.006</text><text x="-4" y="1066.6">0.008</text><text x="-4" y="1035.8">0.010</text></g>
<g class="nar" font-size="9.5" text-anchor="middle"><text x="30.2" y="1199.5">NC</text><text x="75.2" y="1199.5">HF</text><text x="119.7" y="1199.5">HF-NC</text><text x="164.2" y="1199.5">HF-MD</text></g>
<path class="sg" d="M30.2 1037.4H75.2M30.2 1035.4v4M75.2 1035.4v4M75.2 1024.2H119.7M75.2 1022.2v4M119.7 1022.2v4M75.2 1008.9H164.2M75.2 1006.9v4M164.2 1006.9v4"/>
<g class="st" font-size="10"><text x="52.7" y="1033.5">**</text><text x="97.5" y="1019">#</text><text x="119.7" y="1003.5">##</text></g>
</g>
<text class="yl" font-size="8" text-anchor="middle" transform="translate(1121,1113) rotate(-90)">g_Chlamydia</text>

<!-- ===== Panel D row 2 ===== -->
<!-- D5 Prevotella -->
<g transform="translate(47.2,0)">
<rect class="nc" x="15.4" y="1439.1" width="29.5" height="71.7"/><rect class="hf" x="60.4" y="1472.3" width="29.5" height="38.5"/><rect class="hn" x="104.9" y="1379.8" width="29.5" height="131"/><rect class="hm" x="149.4" y="1384.4" width="29.5" height="126.4"/>
<path class="eb" d="M30.2 1457.6V1419.9M23.2 1457.6h14M23.2 1419.9h14M75.2 1477.7V1467.7M68.2 1477.7h14M68.2 1467.7h14M119.7 1394.5V1366M112.7 1394.5h14M112.7 1366h14M164.2 1387.5V1381.4M157.2 1387.5h14M157.2 1381.4h14"/>
<g fill="#111"><circle cx="30.2" cy="1457.6" r="2.2"/><circle cx="30.2" cy="1440.7" r="2.2"/><circle cx="30.2" cy="1419.9" r="2.2"/><circle cx="75.2" cy="1478.5" r="2.2"/><circle cx="72" cy="1470.7" r="2.2"/><circle cx="78.5" cy="1469.9" r="2.2"/><circle cx="119.7" cy="1395.2" r="2.2"/><circle cx="119.7" cy="1378.3" r="2.2"/><circle cx="119.7" cy="1366.7" r="2.2"/><circle cx="164.2" cy="1387.5" r="2.2"/><circle cx="167.5" cy="1384.4" r="2.2"/><circle cx="161" cy="1381.4" r="2.2"/></g>
<path class="ax" d="M0 1356.7V1510.8H194.4M-3 1510.8H0M-3 1472.3H0M-3 1433.7H0M-3 1395.2H0M-3 1356.7H0"/>
<g class="nar" font-size="9" text-anchor="end"><text x="-4" y="1514">0.00</text><text x="-4" y="1475.5">0.05</text><text x="-4" y="1436.9">0.10</text><text x="-4" y="1398.4">0.15</text><text x="-4" y="1359.9">0.20</text></g>
<g class="nar" font-size="9.5" text-anchor="middle"><text x="30.2" y="1523.7">NC</text><text x="75.2" y="1523.7">HF</text><text x="119.7" y="1523.7">HF-NC</text><text x="164.2" y="1523.7">HF-MD</text></g>
<path class="sg" d="M30.2 1370.3H75.2M30.2 1368.3v4M75.2 1368.3v4M30.2 1354.9H119.7M30.2 1352.9v4M119.7 1352.9v4M30.2 1338.7H164.2M30.2 1336.7v4M164.2 1336.7v4M75.2 1321.1H119.7M75.2 1319.1v4M119.7 1319.1v4M75.2 1303.3H164.2M75.2 1301.3v4M164.2 1301.3v4"/>
<g class="st" font-size="10"><text x="52.7" y="1366.5">*</text><text x="75" y="1351">**</text><text x="97.2" y="1334.5">**</text><text x="97.5" y="1315.5">####</text><text x="119.7" y="1297.5">###</text></g>
</g>
<text class="yl" font-size="8" text-anchor="middle" transform="translate(17,1436) rotate(-90)">g_Prevotella</text>

<!-- D6 Lachnospiraceae -->
<g transform="translate(412.1,0)">
<rect class="nc" x="15.4" y="1408.1" width="29.5" height="102.7"/><rect class="hf" x="60.4" y="1469.2" width="29.5" height="41.6"/><rect class="hn" x="104.9" y="1470.2" width="29.5" height="40.6"/><rect class="hm" x="149.4" y="1480.5" width="29.5" height="30.3"/>
<path class="eb" d="M30.2 1427.1V1388.5M23.2 1427.1h14M23.2 1388.5h14M75.2 1473.3V1465.1M68.2 1473.3h14M68.2 1465.1h14M119.7 1484.1V1456.3M112.7 1484.1h14M112.7 1456.3h14M164.2 1482V1477.9M157.2 1482h14M157.2 1477.9h14"/>
<g fill="#111"><circle cx="30.2" cy="1423.5" r="2.2"/><circle cx="30.2" cy="1415.2" r="2.2"/><circle cx="30.2" cy="1386" r="2.2"/><circle cx="75.2" cy="1474" r="2.2"/><circle cx="78" cy="1468.5" r="2.2"/><circle cx="72.5" cy="1466" r="2.2"/><circle cx="119.7" cy="1486.7" r="2.2"/><circle cx="119.7" cy="1466.6" r="2.2"/><circle cx="119.7" cy="1459.4" r="2.2"/><circle cx="161" cy="1482" r="2.2"/><circle cx="167" cy="1479.5" r="2.2"/><circle cx="164.2" cy="1477.5" r="2.2"/></g>
<path class="ax" d="M0 1356.7V1510.8H194M-3 1510.8H0M-3 1459.4H0M-3 1408.1H0M-3 1356.7H0"/>
<g class="nar" font-size="9" text-anchor="end"><text x="-4" y="1514">0.0</text><text x="-4" y="1462.6">0.1</text><text x="-4" y="1411.3">0.2</text><text x="-4" y="1359.9">0.3</text></g>
<g class="nar" font-size="9.5" text-anchor="middle"><text x="30.2" y="1523.7">NC</text><text x="75.2" y="1523.7">HF</text><text x="119.7" y="1523.7">HF-NC</text><text x="164.2" y="1523.7">HF-MD</text></g>
<path class="sg" d="M30.2 1378.9H75.2M30.2 1376.9v4M75.2 1376.9v4M30.2 1365.6H119.7M30.2 1363.6v4M119.7 1363.6v4M30.2 1352.1H164.2M30.2 1350.1v4M164.2 1350.1v4"/>
<g class="st" font-size="10"><text x="52.7" y="1375">**</text><text x="75" y="1361.5">**</text><text x="97.2" y="1348">***</text></g>
</g>
<text class="yl" font-size="8" text-anchor="middle" transform="translate(388,1436) rotate(-90)">f_Lachnospiraceae</text>

<!-- D7 Oscillibacter -->
<g transform="translate(782.8,0)">
<rect class="nc" x="15.4" y="1413.2" width="29.5" height="97.6"/><rect class="hf" x="60.4" y="1465.9" width="29.5" height="44.9"/><rect class="hn" x="104.9" y="1487.7" width="29.5" height="23.1"/><rect class="hm" x="149.4" y="1473.6" width="29.5" height="37.2"/>
<path class="eb" d="M30.2 1442.7V1385.7M23.2 1442.7h14M23.2 1385.7h14M75.2 1483.8V1447.9M68.2 1483.8h14M68.2 1447.9h14M119.7 1492.8V1482.5M112.7 1492.8h14M112.7 1482.5h14M164.2 1481.8V1465.3M157.2 1481.8h14M157.2 1465.3h14"/>
<g fill="#111"><circle cx="30.2" cy="1436.3" r="2.2"/><circle cx="30.2" cy="1424.8" r="2.2"/><circle cx="30.2" cy="1382.4" r="2.2"/><circle cx="75.2" cy="1486.4" r="2.2"/><circle cx="75.2" cy="1459.4" r="2.2"/><circle cx="75.2" cy="1451.7" r="2.2"/><circle cx="119.7" cy="1493.5" r="2.2"/><circle cx="119.7" cy="1487" r="2.2"/><circle cx="119.7" cy="1481" r="2.2"/><circle cx="164.2" cy="1481.8" r="2.2"/><circle cx="164.2" cy="1473" r="2.2"/><circle cx="164.2" cy="1465.3" r="2.2"/></g>
<path class="ax" d="M0 1356.7V1510.8H194M-3 1510.8H0M-3 1459.4H0M-3 1408.1H0M-3 1356.7H0"/>
<g class="nar" font-size="9" text-anchor="end"><text x="-4" y="1514">0.00</text><text x="-4" y="1462.6">0.02</text><text x="-4" y="1411.3">0.04</text><text x="-4" y="1359.9">0.06</text></g>
<g class="nar" font-size="9.5" text-anchor="middle"><text x="30.2" y="1523.7">NC</text><text x="75.2" y="1523.7">HF</text><text x="119.7" y="1523.7">HF-NC</text><text x="164.2" y="1523.7">HF-MD</text></g>
<path class="sg" d="M30.2 1367.7H75.2M30.2 1365.7v4M75.2 1365.7v4M30.2 1355.7H119.7M30.2 1353.7v4M119.7 1353.7v4M30.2 1341.5H164.2M30.2 1339.5v4M164.2 1339.5v4"/>
<g class="st" font-size="10"><text x="52.7" y="1364">*</text><text x="75" y="1351.5">**</text><text x="97.2" y="1337.5">*</text></g>
</g>
<text class="yl" font-size="8" text-anchor="middle" transform="translate(754,1436) rotate(-90)">g_Oscillibacter</text>

<!-- D8 Roseburia -->
<g transform="translate(1151.9,0)">
<rect class="nc" x="15.4" y="1402.3" width="29.5" height="108.5"/><rect class="hf" x="60.4" y="1455.3" width="29.5" height="55.5"/><rect class="hn" x="104.9" y="1460.6" width="29.5" height="50.2"/><rect class="hm" x="149.4" y="1468.9" width="29.5" height="41.9"/>
<path class="eb" d="M30.2 1412.2V1393.1M23.2 1412.2h14M23.2 1393.1h14M75.2 1475.4V1435.3M68.2 1475.4h14M68.2 1435.3h14M119.7 1480V1440.5M112.7 1480h14M112.7 1440.5h14M164.2 1472.6V1465.2M157.2 1472.6h14M157.2 1465.2h14"/>
<g fill="#111"><circle cx="30.2" cy="1412.8" r="2.2"/><circle cx="30.2" cy="1401" r="2.2"/><circle cx="30.2" cy="1393.8" r="2.2"/><circle cx="75.2" cy="1478.4" r="2.2"/><circle cx="75.2" cy="1447.6" r="2.2"/><circle cx="75.2" cy="1440" r="2.2"/><circle cx="119.7" cy="1477.5" r="2.2"/><circle cx="119.7" cy="1466" r="2.2"/><circle cx="119.7" cy="1437.8" r="2.2"/><circle cx="164.2" cy="1472.6" r="2.2"/><circle cx="161" cy="1466" r="2.2"/><circle cx="167.5" cy="1466" r="2.2"/></g>
<path class="ax" d="M0 1356.7V1510.8H195M-3 1510.8H0M-3 1480H0M-3 1449.2H0M-3 1418.3H0M-3 1387.5H0M-3 1356.7H0"/>
<g class="nar" font-size="9" text-anchor="end"><text x="-4" y="1514">0.00</text><text x="-4" y="1483.2">0.01</text><text x="-4" y="1452.4">0.02</text><text x="-4" y="1421.5">0.03</text><text x="-4" y="1390.7">0.04</text><text x="-4" y="1359.9">0.05</text></g>
<g class="nar" font-size="9.5" text-anchor="middle"><text x="30.2" y="1523.7">NC</text><text x="75.2" y="1523.7">HF</text><text x="119.7" y="1523.7">HF-NC</text><text x="164.2" y="1523.7">HF-MD</text></g>
<path class="sg" d="M30.2 1383.4H75.2M30.2 1381.4v4M75.2 1381.4v4M30.2 1369.2H119.7M30.2 1367.2v4M119.7 1367.2v4M30.2 1354.2H164.2M30.2 1352.2v4M164.2 1352.2v4"/>
<g class="st" font-size="10"><text x="52.7" y="1379.5">*</text><text x="75" y="1365">**</text><text x="97.2" y="1350">**</text></g>
</g>
<text class="yl" font-size="8" text-anchor="middle" transform="translate(1124,1436) rotate(-90)">g_Roseburia</text>

</svg>
</body></html>
